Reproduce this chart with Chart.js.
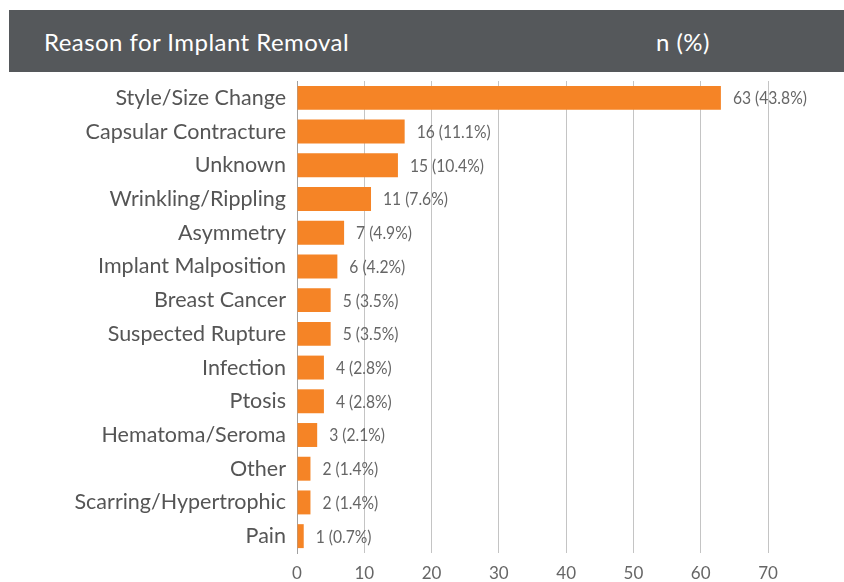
<!DOCTYPE html>
<html>
<head>
<meta charset="utf-8">
<script src="https://cdn.jsdelivr.net/npm/chart.js@4.4.1/dist/chart.umd.min.js"></script>
<style>
  html, body { margin: 0; padding: 0; background: #ffffff; }
  #wrap { position: relative; width: 844px; height: 582px; overflow: hidden; }
  #hdr { position: absolute; left: 9px; top: 10px; width: 835px; height: 62px; background: #55585b; }
  #hdr span { position: absolute; color: #ffffff; font-family: Lato, 'Open Sans', sans-serif; font-size: 24px; letter-spacing: 0.45px; top: 50%; transform: translateY(-50%); }
  #c { position: absolute; left: 0; top: 0; }
</style>
</head>
<body>
<div id="wrap">
  <canvas id="c" width="844" height="582"></canvas>
  <div id="hdr"><span style="left:35px">Reason for Implant Removal</span><span style="left:647px">n (%)</span></div>
</div>
<script>
const categories = ["Style/Size Change","Capsular Contracture","Unknown","Wrinkling/Rippling","Asymmetry","Implant Malposition","Breast Cancer","Suspected Rupture","Infection","Ptosis","Hematoma/Seroma","Other","Scarring/Hypertrophic","Pain"];
const counts = [63,16,15,11,7,6,5,5,4,4,3,2,2,1];
const percents = [43.8,11.1,10.4,7.6,4.9,4.2,3.5,3.5,2.8,2.8,2.1,1.4,1.4,0.7];
const xTicks = [0,10,20,30,40,50,60,70];

const valueLabels = {
  id: 'valueLabels',
  afterDatasetsDraw(chart) {
    const ctx = chart.ctx;
    const meta = chart.getDatasetMeta(0);
    meta.data.forEach((bar, i) => {
      ctx.save();
      ctx.font = "17px Lato, sans-serif";
      ctx.fillStyle = '#666666';
      ctx.textAlign = 'left';
      ctx.textBaseline = 'middle';
      ctx.translate(bar.x + 12, bar.y + 1);
      ctx.scale(0.92, 1);
      ctx.fillText(counts[i] + ' (' + percents[i].toFixed(1) + '%)', 0, 0);
      ctx.restore();
    });
  }
};

new Chart(document.getElementById('c'), {
  type: 'bar',
  data: {
    labels: categories,
    datasets: [{
      data: counts,
      backgroundColor: '#f58426',
      borderWidth: 0,
      barPercentage: 0.71,
      categoryPercentage: 1.0
    }]
  },
  options: {
    indexAxis: 'y',
    responsive: false,
    animation: false,
    layout: { padding: { left: 0, right: 76, top: 81, bottom: 0 } },
    plugins: { legend: { display: false }, tooltip: { enabled: false } },
    scales: {
      x: {
        min: 0, max: 70,
        afterBuildTicks(scale) { scale.ticks = xTicks.map(v => ({ value: v })); },
        afterFit(scale) { scale.height = 29; },
        grid: { color: '#c4c4c4', lineWidth: 1, drawTicks: false },
        border: { display: false },
        ticks: { color: '#666666', font: { family: 'Lato', size: 17 }, padding: 10 }
      },
      y: {
        afterFit(scale) { scale.width = 297; },
        grid: { display: false, drawTicks: false },
        border: { display: true, color: '#a0a0a0', width: 1 },
        ticks: { color: '#555555', font: { family: 'Lato', size: 21.5 }, padding: 11 }
      }
    }
  },
  plugins: [valueLabels]
});
</script>
</body>
</html>
